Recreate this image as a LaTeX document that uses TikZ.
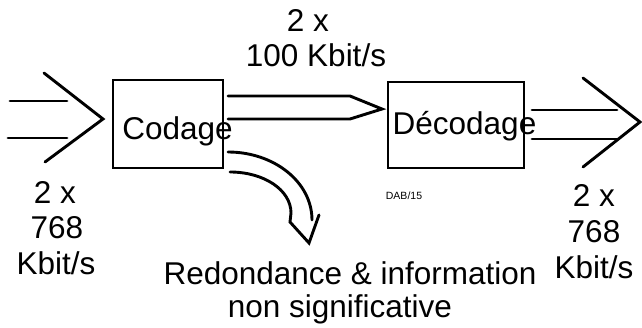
\documentclass[tikz,border=0pt]{standalone}
\usepackage{fontspec}
\setmainfont{Liberation Sans}
\begin{document}
\begin{tikzpicture}[x=1pt,y=-1pt,
  boxnode/.style={draw, line width=2.6pt, inner sep=0pt},
  lbl/.style={font=\fontsize{31.5}{36}\selectfont, inner sep=0pt, anchor=base},
  arr/.style={line width=2.9pt, line cap=round, line join=miter}]
\useasboundingbox (0,0) rectangle (642,328);
% boxes
\node[boxnode, minimum width=110pt, minimum height=88pt] (codage) at (168,124) {};
\node[boxnode, minimum width=136pt, minimum height=86pt] (decodage) at (456,125) {};
\node[lbl] (codagetxt) at (177.5,140) {Codage};
\node[lbl] (decodagetxt) at (464.5,135) {Décodage};
% labels
\node[lbl] (top1) at (308,32) {2 x};
\node[lbl] (top2) at (316,67) {100 Kbit/s};
\node[lbl] (l1) at (55,204) {2 x};
\node[lbl] (l2) at (57,239) {768};
\node[lbl] (l3) at (56,275) {Kbit/s};
\node[lbl] (r1) at (594,207) {2 x};
\node[lbl] (r2) at (594,243) {768};
\node[lbl] (r3) at (594,279) {Kbit/s};
\node[lbl] (b1) at (350,285) {Redondance \& information};
\node[lbl] (b2) at (340,318) {non significative};
\node[font=\fontsize{10.5}{12}\selectfont, inner sep=0pt] (dab) at (404,196) {DAB/15};
% input arrow
\coordinate (ina1) at (10,101); \coordinate (inb1) at (67,101);
\coordinate (ina2) at (8,138); \coordinate (inb2) at (67,138);
\draw[arr] (ina1) -- (inb1);
\draw[arr] (ina2) -- (inb2);
\draw[arr] (44,73) -- (103,119) -- (45,162);
% middle arrow from codage to decodage
\coordinate (ma1) at (228,96); \coordinate (ma2) at (228,119);
\coordinate (mtip) at (382,109);
\draw[arr] (ma1) -- (350,96) -- (mtip) -- (350,119) -- (ma2);
% output arrow
\coordinate (oa1) at (532,110); \coordinate (ob1) at (617,110);
\coordinate (oa2) at (532,139); \coordinate (ob2) at (617,139);
\draw[arr] (oa1) -- (ob1);
\draw[arr] (oa2) -- (ob2);
\draw[arr] (583,78) -- (640,122) -- (583,167);
% curved arrow
\draw[arr] (228,152) .. controls (274,152) and (312,182) .. (312,220);
\draw[arr] (230,172) .. controls (264,172) and (291,190) .. (291,213) -- (290,222) -- (309,243) -- (319,215);
\end{tikzpicture}
\end{document}
